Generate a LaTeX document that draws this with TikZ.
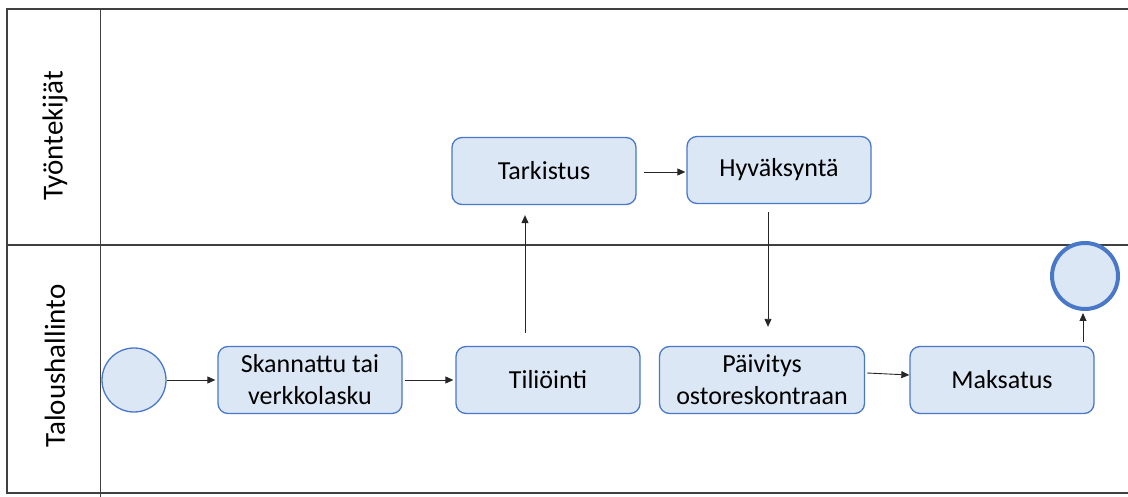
\documentclass[tikz,border=0pt]{standalone}
\usepackage{fontspec}
\setmainfont{Carlito}
\usetikzlibrary{arrows.meta}
\definecolor{boxfill}{HTML}{DCE7F5}
\definecolor{boxline}{HTML}{4A78C8}
\definecolor{laneline}{HTML}{404040}
\tikzset{
  task/.style={draw=boxline, fill=boxfill, line width=1.3pt, rounded corners=10pt,
    minimum width=184pt, minimum height=67pt, inner sep=0pt, align=center,
    font=\fontsize{26}{32}\selectfont},
  startev/.style={circle, draw=boxline, fill=boxfill, line width=1.3pt, minimum size=64pt, inner sep=0pt},
  endev/.style={circle, draw=boxline, fill=boxfill, line width=4pt, minimum size=66pt, inner sep=0pt},
  flow/.style={draw=black!85, line width=0.9pt, -{Triangle[length=8pt,width=7pt]}},
  lanelabel/.style={rotate=90, font=\fontsize{29}{32}\selectfont, inner sep=0pt},
  lanerule/.style={draw=laneline, line width=1.4pt},
}
\begin{document}
\begin{tikzpicture}[x=1pt,y=-1pt]
\useasboundingbox (0,0) rectangle (1128,497);
% pool frame
\draw[lanerule] (1128,9) -- (7,9) -- (7,493) -- (1128,493);
\draw[lanerule] (7,245) -- (1128,245);
\draw[draw=laneline, line width=1pt] (100,9) -- (100,497);
\node[lanelabel] (l1) at (55,136) {Työntekijät};
\node[lanelabel] (l2) at (55,366) {Taloushallinto};
% nodes
\node[startev] (s) at (134,380) {};
\node[task] (a) at (310,380) {Skannattu tai\\verkkolasku};
\node[task] (b) at (548,380) {Tiliöinti};
\node[task] (c) at (544,171) {Tarkistus};
\node[task] (d) at (779,170) {Hyväksyntä};
\node[task, minimum width=205pt] (e) at (762,380) {Päivitys\\ostoreskontraan};
\node[task] (f) at (1002,380) {Maksatus};
\node[endev] (g) at (1085,276) {};
% flows
\draw[flow] (s.east) -- ([xshift=-2pt]a.west);
\draw[flow] ([xshift=2pt]a.east) -- ([xshift=-2pt]b.west);
\draw[flow] ([xshift=-23pt,yshift=13pt]b.north) -- ([xshift=-19pt,yshift=-10pt]c.south);
\draw[flow] ([xshift=7pt,yshift=-1pt]c.east) -- ([xshift=-1pt,yshift=-2pt]d.west);
\draw[flow] ([xshift=-11pt,yshift=-8pt]d.south) -- ([xshift=6pt,yshift=19pt]e.north);
\draw[flow] ([xshift=2pt,yshift=7pt]e.east) -- ([yshift=5pt]f.west);
\draw[flow] ([xshift=81pt,yshift=4pt]f.north) -- ([xshift=-2pt,yshift=-2pt]g.south);
\end{tikzpicture}
\end{document}
